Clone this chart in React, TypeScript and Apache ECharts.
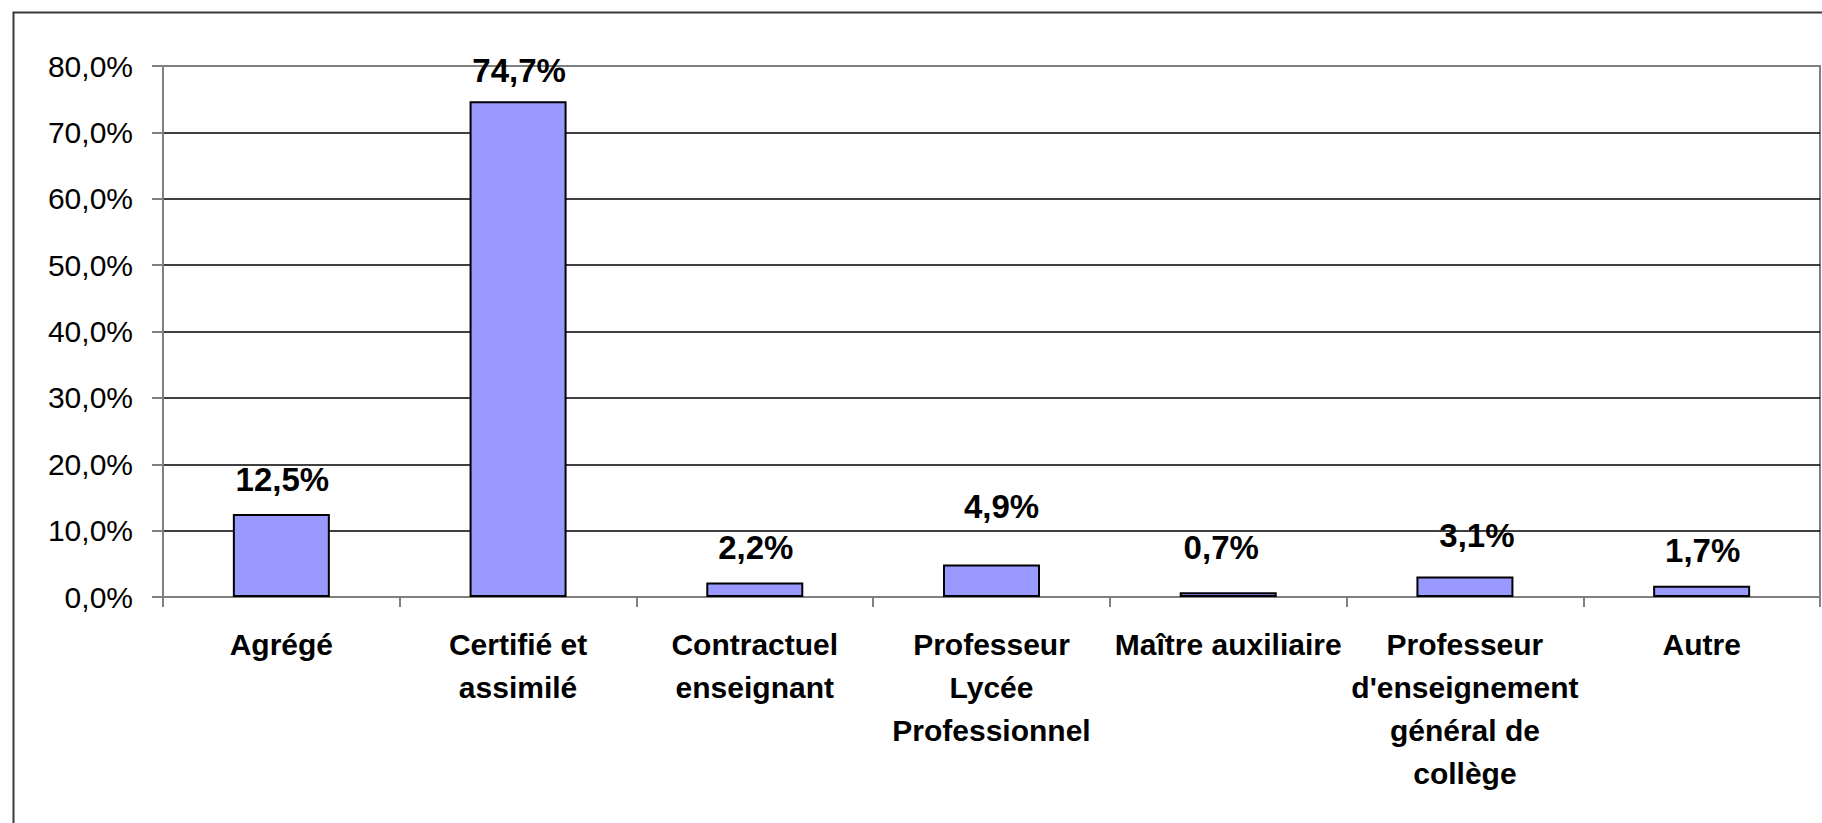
import React, { useEffect, useRef } from "react";
import * as echarts from "echarts";

const categories = [
  "Agrégé",
  "Certifié et\nassimilé",
  "Contractuel\nenseignant",
  "Professeur\nLycée\nProfessionnel",
  "Maître auxiliaire",
  "Professeur\nd'enseignement\ngénéral de\ncollège",
  "Autre",
];
const values = [12.5, 74.7, 2.2, 4.9, 0.7, 3.1, 1.7];
const yMin = 0;
const yMax = 80;
const yStep = 10;
// manual label nudges [dx, dy] as placed in the original chart
const labelNudges: [number, number][] = [
  [1, -4],
  [1, 0],
  [1, -4],
  [10, -27],
  [-7, -14],
  [12, -10],
  [1, -5],
];

const fmt = (v: number) => v.toFixed(1).replace(".", ",") + "%";
const FONT = "'Liberation Sans', Arial, sans-serif";

export default function App() {
  const ref = useRef<HTMLDivElement>(null);
  useEffect(() => {
    if (!ref.current) return;
    const chart = echarts.init(ref.current, undefined, { renderer: "svg" });
    const gridColors = [] as string[];
    for (let v = yMin; v <= yMax; v += yStep) gridColors.push(v === yMax ? "#808080" : "#000000");
    chart.setOption({
      animation: false,
      backgroundColor: "#ffffff",
      textStyle: { fontFamily: FONT },
      graphic: [
        {
          type: "rect",
          left: 11,
          top: 10,
          shape: { x: 0, y: 0, width: 1840, height: 840 },
          style: { fill: "none", stroke: "#3a3a3a", lineWidth: 2 },
          z: -10,
          silent: true,
        },
      ],
      grid: {
        left: 163,
        right: 2,
        top: 66,
        bottom: 226,
        show: true,
        borderColor: "#808080",
        borderWidth: 2,
        backgroundColor: "transparent",
        containLabel: false,
      },
      xAxis: {
        type: "category",
        data: categories,
        axisLine: { show: true, lineStyle: { color: "#808080", width: 2 } },
        axisTick: { show: true, length: 10, lineStyle: { color: "#808080", width: 2 } },
        axisLabel: {
          interval: 0,
          margin: 26,
          fontSize: 30,
          fontWeight: "bold",
          color: "#000000",
          lineHeight: 43,
          fontFamily: FONT,
        },
        splitLine: { show: false },
      },
      yAxis: {
        type: "value",
        min: yMin,
        max: yMax,
        interval: yStep,
        axisLine: { show: true, lineStyle: { color: "#808080", width: 2 } },
        axisTick: { show: true, length: 11, lineStyle: { color: "#808080", width: 2 } },
        axisLabel: {
          margin: 30,
          fontSize: 30,
          color: "#000000",
          fontFamily: FONT,
          formatter: (v: number) => fmt(v),
        },
        splitLine: { show: true, lineStyle: { color: gridColors, width: 1.5 } },
      },
      series: [
        {
          type: "bar",
          barWidth: 97,
          data: values.map((v, i) => ({
            value: v,
            label: { offset: labelNudges[i] },
          })),
          itemStyle: { color: "#9999FF", borderColor: "#000000", borderWidth: 2 },
          label: {
            show: true,
            position: "top",
            distance: 14,
            fontSize: 33,
            lineHeight: 33,
            fontWeight: "bold",
            color: "#000000",
            fontFamily: FONT,
            formatter: (p: any) => fmt(p.value),
          },
        },
      ],
    });
    return () => chart.dispose();
  }, []);
  return (
    <div
      ref={ref}
      style={{ position: "fixed", left: 0, top: 0, width: 1822, height: 823, background: "#fff" }}
    />
  );
}
